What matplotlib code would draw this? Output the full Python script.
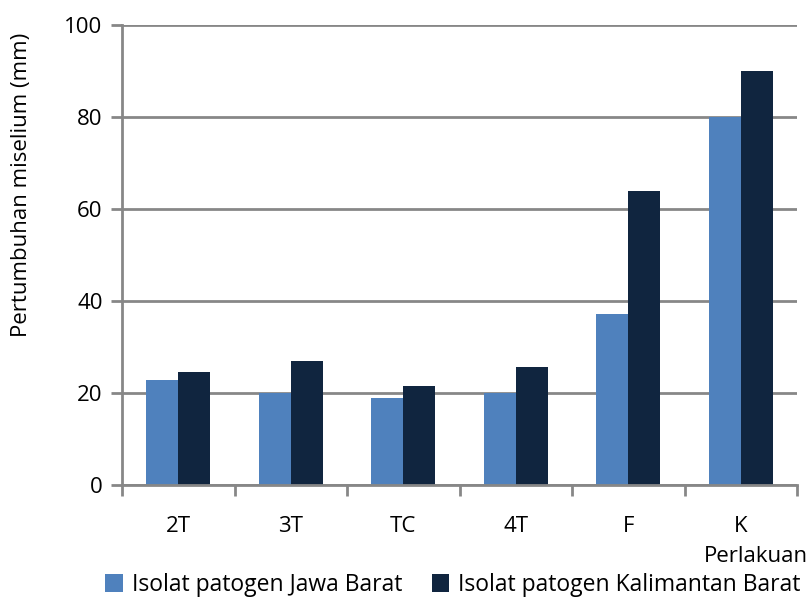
import matplotlib
matplotlib.use("Agg")
import matplotlib.pyplot as plt
import numpy as np

categories = ["2T", "3T", "TC", "4T", "F", "K"]
jawa_barat = [22.8, 20.0, 18.9, 20.0, 37.2, 80.0]
kalimantan_barat = [24.6, 27.0, 21.5, 25.7, 63.9, 90.0]
series_names = ["Isolat patogen Jawa Barat", "Isolat patogen Kalimantan Barat"]
yticks = [0, 20, 40, 60, 80, 100]

plt.rcParams['font.family'] = ['Open Sans', 'DejaVu Sans']
FS = 16

fig = plt.figure(figsize=(8.1, 6.0), dpi=100)
ax = fig.add_axes([122/810, 1-485/600, (797-122)/810, (485-25)/600])

x = np.arange(len(categories))
w = 0.285
c1 = "#4F81BD"
c2 = "#10253F"
b1 = ax.bar(x - w/2, jawa_barat, w, color=c1, zorder=3)
b2 = ax.bar(x + w/2, kalimantan_barat, w, color=c2, zorder=3)

ax.set_xlim(-0.5, len(categories) - 0.5)
ax.set_ylim(0, 100)
ax.set_yticks(yticks)
ax.yaxis.grid(True, color="#878787", linewidth=2, zorder=1)
ax.set_axisbelow(True)
for s in ["top", "right"]:
    ax.spines[s].set_visible(False)
for s in ["left", "bottom"]:
    ax.spines[s].set_color("#878787")
    ax.spines[s].set_linewidth(2)
ax.spines["bottom"].set_zorder(4)

ax.set_xticks(np.arange(len(categories) + 1) - 0.5, minor=False)
ax.set_xticklabels([])
ax.set_xticks(x, minor=True)
ax.set_xticklabels(categories, minor=True)
ax.tick_params(axis="x", which="major", length=8, width=2, color="#878787", direction="out")
ax.tick_params(axis="x", which="minor", length=0, pad=22, labelsize=FS)
ax.tick_params(axis="y", length=8, width=2, color="#878787", direction="out", labelsize=FS, pad=6)

fig.text(22/810, 1-185/600, "Pertumbuhan miselium (mm)", rotation=90, ha="center", va="center", fontsize=FS)
fig.text(808/810, 1-556/600, "Perlakuan", ha="right", va="center", fontsize=FS)

fig.legend([b1, b2], series_names, loc="center", bbox_to_anchor=(453/810, 1-585/600),
           ncol=2, frameon=False, fontsize=16.5, handlelength=0.75, handleheight=0.8,
           handletextpad=0.4, columnspacing=1.3, borderaxespad=0)

fig.savefig("out.png", dpi=100)
